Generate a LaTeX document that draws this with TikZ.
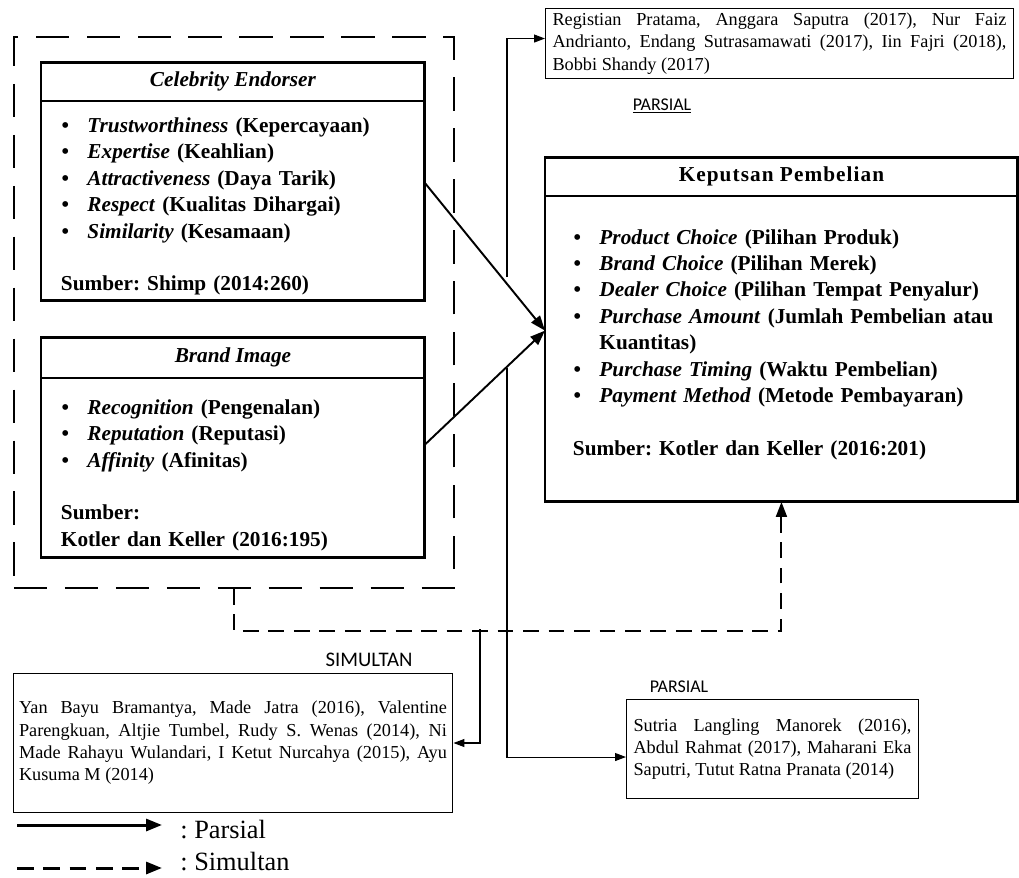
\documentclass[tikz,border=0pt]{standalone}
\usepackage{fontspec}
\setmainfont{Liberation Serif}
\newfontfamily\calibri{Carlito}
\usetikzlibrary{arrows.meta,positioning,calc}
\frenchspacing

\newenvironment{butir}{%
  \begin{list}{\textbullet}{%
    \setlength{\leftmargin}{0.53cm}\setlength{\labelsep}{0.37cm}%
    \setlength{\rightmargin}{-0.3cm}%
    \setlength{\itemsep}{0pt}\setlength{\parsep}{0pt}%
    \setlength{\topsep}{0pt}\setlength{\partopsep}{0pt}}}%
  {\end{list}}

\begin{document}
\begin{tikzpicture}[x=0.02cm,y=-0.02cm,
  judul/.style={draw,line width=1.7pt,inner sep=0pt,outer sep=0pt,font=\fontsize{12.1}{15}\selectfont\bfseries},
  isi/.style={draw,line width=1.7pt,inner ysep=0pt,outer sep=0pt,align=left,font=\fontsize{12.1}{15}\selectfont\bfseries},
  rujukan/.style={draw,line width=0.6pt,inner xsep=0.14cm,inner ysep=0pt,align=justify,font=\fontsize{10.4}{12.7}\selectfont},
  ket/.style={inner sep=0pt,font=\calibri\fontsize{10.2}{12}\selectfont},
  panah/.style={line width=1.1pt,-{Triangle[length=0.3cm,width=0.22cm]}},
  tipis/.style={line width=0.6pt,-{Triangle[length=0.22cm,width=0.16cm]}},
  putus/.style={line width=1.1pt,dash pattern=on 9pt off 5.5pt}]
  \useasboundingbox (0,0) rectangle (1019,877);

  % variabel bebas
  \node[draw,line width=1.1pt,dash pattern=on 19pt off 10pt,inner sep=0pt,
    minimum width=8.8cm,minimum height=11.02cm,anchor=north west] (luar) at (13,36) {};

  \node[judul,minimum width=7.68cm,minimum height=0.78cm,anchor=north west] (ceJ) at (41,62)
    {\itshape Celebrity Endorser};
  \node[isi,text width=6.88cm,inner xsep=0.4cm,minimum height=4cm,anchor=north] (ceI) at (ceJ.south) {%
    \begin{butir}
      \item \textit{Trustworthiness} (Kepercayaan)
      \item \textit{Expertise} (Keahlian)
      \item \textit{Attractiveness} (Daya Tarik)
      \item \textit{Respect} (Kualitas Dihargai)
      \item \textit{Similarity} (Kesamaan)
    \end{butir}
    \vspace{\baselineskip}
    Sumber: Shimp (2014:260)\rule[-0.1cm]{0pt}{0pt}};

  \node[judul,minimum width=7.68cm,minimum height=0.82cm,anchor=north west] (biJ) at (41,337)
    {\itshape Brand Image};
  \node[isi,text width=6.88cm,inner xsep=0.4cm,minimum height=3.6cm,anchor=north] (biI) at (biJ.south) {%
    \begin{butir}
      \item \rule{0pt}{0.55cm}\textit{Recognition} (Pengenalan)
      \item \textit{Reputation} (Reputasi)
      \item \textit{Affinity} (Afinitas)
    \end{butir}
    \vspace{\baselineskip}
    Sumber:\\
    Kotler dan Keller (2016:195)};

  % variabel terikat
  \node[judul,minimum width=9.46cm,minimum height=0.78cm,anchor=north west] (kpJ) at (545,157)
    {\addfontfeature{LetterSpace=5}Keputsan Pembelian};
  \node[isi,text width=8.34cm,inner xsep=0.56cm,minimum height=6.12cm,anchor=north] (kpI) at (kpJ.south) {%
    \begin{butir}
      \item \textit{Product Choice} (Pilihan Produk)
      \item \textit{Brand Choice} (Pilihan Merek)
      \item \textit{Dealer Choice} (Pilihan Tempat Penyalur)
      \item \textit{Purchase Amount} (Jumlah Pembelian atau Kuantitas)
      \item \textit{Purchase Timing} (Waktu Pembelian)
      \item \textit{Payment Method} (Metode Pembayaran)
    \end{butir}
    \vspace{\baselineskip}
    Sumber: Kotler dan Keller (2016:201)\rule[-0.5cm]{0pt}{0pt}};

  % penelitian terdahulu
  \node[rujukan,text width=9.08cm,minimum height=1.4cm,anchor=north west] (refA) at (545,8)
    {Registian Pratama, Anggara Saputra (2017), Nur Faiz\linebreak
     Andrianto, Endang Sutrasamawati (2017), Iin Fajri (2018),\linebreak
     Bobbi Shandy (2017)};
  \node[rujukan,text width=8.56cm,inner xsep=0.12cm,minimum height=2.78cm,anchor=north west] (refS) at (12.5,673)
    {Yan Bayu Bramantya, Made Jatra (2016), Valentine\linebreak
     Parengkuan, Altjie Tumbel, Rudy S. Wenas (2014), Ni\linebreak
     Made Rahayu Wulandari, I Ketut Nurcahya (2015), Ayu\linebreak
     Kusuma M (2014)};
  \node[rujukan,text width=5.56cm,minimum height=1.98cm,anchor=north west] (refP) at (626,699)
    {Sutria Langling Manorek (2016),\linebreak
     Abdul Rahmat (2017), Maharani Eka\linebreak
     Saputri, Tutut Ratna Pranata (2014)};

  \node[ket] (pA) at (662,106) {\underline{PARSIAL}};
  \node[ket,font=\calibri\fontsize{11.8}{14}\selectfont] (sM) at (369,660) {SIMULTAN};
  \node[ket] (pB) at (679,687) {PARSIAL};

  % hubungan
  \draw[panah] ($(ceI.north east)!0.41!(ceI.south east)$) -- ($(kpI.north west)!0.44!(kpI.south west)$);
  \draw[panah] ($(biI.north east)!0.37!(biI.south east)$) -- ($(kpI.north west)!0.44!(kpI.south west)$);
  \draw[putus,-{Triangle[length=0.3cm,width=0.22cm]}] (luar.south) -- ++(0,42) -| (kpI.south);

  \coordinate (jA) at (507,277);
  \coordinate (jB) at (507,368);
  \coordinate (sA) at (480,629);
  \draw[tipis] (jA) |- ($(refA.west)+(0,-5)$);
  \draw[tipis] (jB) |- ($(refP.west)+(0,8)$);
  \draw[tipis] (sA) |- (refS.east);

  % keterangan
  \coordinate (lgA) at (17,825);
  \coordinate (lgB) at (162,825);
  \coordinate (lgC) at (17,868);
  \coordinate (lgD) at (162,868);
  \draw[line width=1.7pt,-{Triangle[length=0.32cm,width=0.24cm]}] (lgA) -- (lgB);
  \draw[line width=1.7pt,dash pattern=on 9.5pt off 5.5pt,-{Triangle[length=0.32cm,width=0.24cm]}] (lgC) -- (lgD);
  \node[anchor=base west,inner sep=0pt,font=\fontsize{15}{18}\selectfont] (lgP) at (180,838) {: Parsial};
  \node[anchor=base west,inner sep=0pt,font=\fontsize{15}{18}\selectfont] (lgS) at (180,870) {: Simultan};
\end{tikzpicture}
\end{document}
